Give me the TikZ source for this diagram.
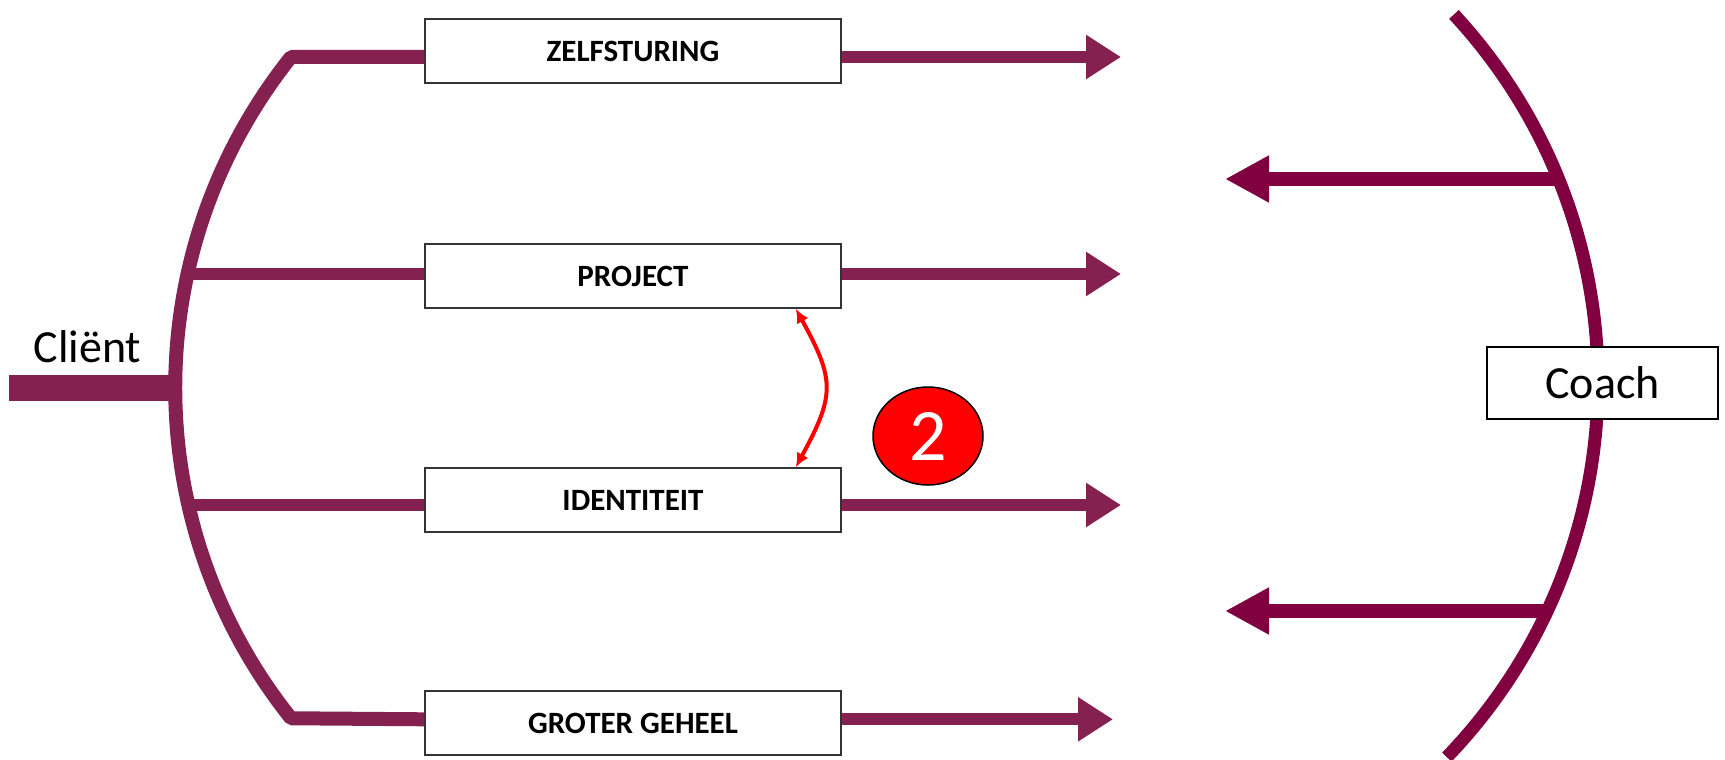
\documentclass[tikz,border=0pt]{standalone}
\usepackage{fontspec}
\setmainfont{Carlito}
\usetikzlibrary{arrows.meta,shapes.geometric}
\definecolor{clientcol}{RGB}{132,33,80}
\definecolor{coachcol}{RGB}{128,0,64}

\begin{document}
\begin{tikzpicture}[x=1pt, y=-1pt,
    box/.style = {draw=black!80, line width=1.5pt, fill=white, minimum width=416pt, minimum height=64pt, inner sep=0pt, font=\fontsize{31}{36}\selectfont\bfseries},
    toright/.style = {clientcol, line width=12pt, -{Triangle[length=35pt,width=42pt]}},
    toleft/.style = {coachcol, line width=14pt, -{Triangle[length=44pt,width=44pt]}},
    twoway/.style = {red, line width=4pt, {Latex[length=14pt,width=13pt]}-{Latex[length=14pt,width=13pt]}}]
      \useasboundingbox (0,0) rectangle (1725,760);
      % client side
      \node[box] (zelf) at (633,51) {ZELFSTURING};
      \node[box] (proj) at (633,276) {PROJECT};
      \node[box] (iden) at (633,500) {IDENTITEIT};
      \node[box] (groter) at (633,723) {GROTER GEHEEL};
      \node[anchor=base west, font=\fontsize{46}{50}\selectfont] (client) at (30,362) {Cliënt};
      \coordinate (e1) at (1121,57);
      \coordinate (e2) at (1121,274);
      \coordinate (e3) at (1121,505);
      \coordinate (e4) at (1113,719.3);
      \coordinate (ltop) at (291,57);
      \coordinate (l2) at (188,274);
      \coordinate (l3) at (188,505);
      \coordinate (lmid) at (176,388);
      \coordinate (cin) at (9,388);
      \draw[clientcol, line width=14pt, line join=bevel] (zelf.west |- e1) -- (ltop)
        arc[start angle=218.6, end angle=141.4, radius=530] -- (groter.west |- e4);
      \draw[clientcol, line width=12pt] (l2) -- (proj.west |- e2);
      \draw[clientcol, line width=12pt] (l3) -- (iden.west |- e3);
      \draw[clientcol, line width=26pt] (cin) -- (lmid);
      \draw[toright] (zelf.east |- e1) -- (e1);
      \draw[toright] (proj.east |- e2) -- (e2);
      \draw[toright] (iden.east |- e3) -- (e3);
      \draw[toright] (groter.east |- e4) -- (e4);
      % coach side
      \coordinate (cc) at (1057,382);
      \coordinate (c1) at (1558,179);
      \coordinate (c2) at (1547,611);
      \coordinate (t1) at (1225,179);
      \coordinate (t2) at (1225,611);
      \draw[coachcol, line width=13pt] ([shift={(-42.8:541)}]cc) arc[start angle=-42.8, end angle=43.9, radius=541];
      \draw[toleft] (c1) -- (t1);
      \draw[toleft] (c2) -- (t2);
      \node[draw, line width=2pt, fill=white, minimum width=231pt, minimum height=72pt, font=\fontsize{46}{50}\selectfont] (coach) at (1602.5,383) {Coach};
      % step 2
      \node[ellipse, draw=black, line width=1.5pt, fill=red, minimum width=110pt, minimum height=98pt, inner sep=0pt, text=white, font=\fontsize{74}{74}\selectfont] (two) at (928,436) {2};
      \draw[twoway] ([xshift=-46pt]proj.south east) .. controls (835,380) and (835,395) .. ([xshift=-46pt]iden.north east);
    \end{tikzpicture}
\end{document}
